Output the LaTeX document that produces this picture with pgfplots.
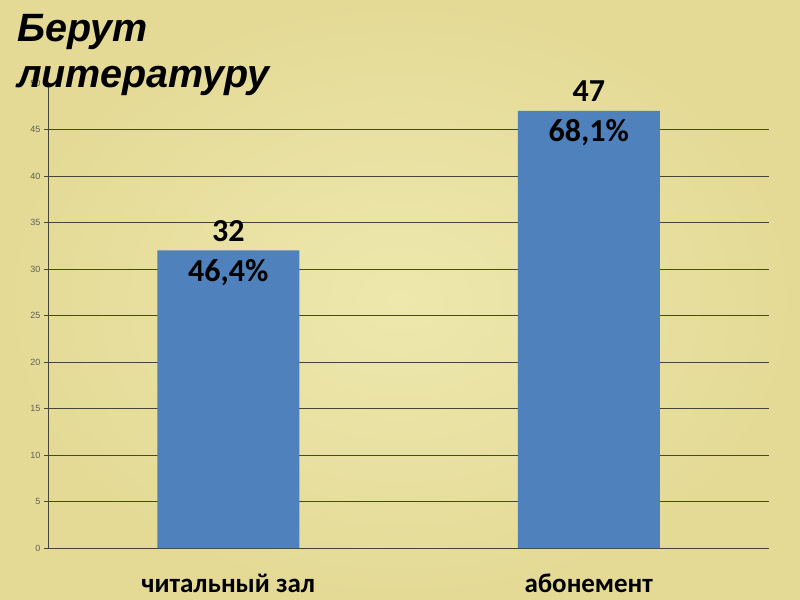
\documentclass[border=0pt]{standalone}
\usepackage{fontspec}
\usepackage{pgfplots}
\pgfplotsset{compat=1.18}
\setmainfont{Carlito}
\newfontfamily\arialfont{Liberation Sans}

\definecolor{barblue}{RGB}{79,129,189}
\definecolor{gridc}{RGB}{70,70,55}
\definecolor{tickc}{RGB}{95,95,85}
\definecolor{paperin}{RGB}{238,232,174}
\definecolor{paperout}{RGB}{228,218,150}

\begin{document}
\begin{tikzpicture}
\useasboundingbox (0,0) rectangle (800bp,600bp);
\shade[inner color=paperin, outer color=paperout] (0,0) rectangle (800bp,600bp);

\begin{axis}[
    at={(48bp,52bp)}, anchor=south west,
    scale only axis, width=721bp, height=465bp,
    xmin=-0.5, xmax=1.5, ymin=0, ymax=50,
    axis x line=bottom, axis y line=left,
    axis line style={gridc, line width=0.9bp, -},
    clip=false,
    xtick={0,1},
    xticklabels={читальный зал, абонемент},
    xtick style={draw=none},
    xticklabel style={font=\fontsize{27bp}{31bp}\selectfont\bfseries, anchor=base, yshift=-40bp},
    extra x ticks={-0.5,1.5},
    extra x tick labels={},
    extra x tick style={major tick length=8bp, tick align=outside, grid=none, tick style={gridc, line width=0.9bp}},
    ytick={0,5,...,45},
    extra y ticks={50},
    extra y tick style={grid=none},
    ymajorgrids,
    major grid style={gridc, line width=0.8bp},
    tick align=outside,
    major tick length=4bp,
    ytick style={gridc, line width=0.8bp},
    yticklabel style={font=\arialfont\fontsize{9bp}{10bp}\selectfont, color=tickc},
    /pgf/number format/assume math mode=true,
]
\addplot[ybar, bar width=142bp, fill=barblue, draw=none] coordinates {(0,32) (1,47)};
\addplot[draw=none, mark=none, nodes near coords, point meta=explicit symbolic,
    every node near coord/.append style={anchor=base, yshift=9bp, font=\fontsize{32bp}{36bp}\selectfont\bfseries, text=black}]
    coordinates {(0,32) [32] (1,47) [47]};
\addplot[draw=none, mark=none, nodes near coords, point meta=explicit symbolic,
    every node near coord/.append style={anchor=base, yshift=-31bp, font=\fontsize{32bp}{36bp}\selectfont\bfseries, text=black}]
    coordinates {(0,32) [46,4\%] (1,47) [68,1\%]};
\end{axis}

\node[anchor=base west, inner sep=0pt, font=\arialfont\fontsize{39.5bp}{46bp}\selectfont\bfseries\itshape] at (17bp,558bp) {Берут};
\node[anchor=base west, inner sep=0pt, font=\arialfont\fontsize{39.5bp}{46bp}\selectfont\bfseries\itshape] at (17bp,512bp) {литературу};
\end{tikzpicture}
\end{document}
